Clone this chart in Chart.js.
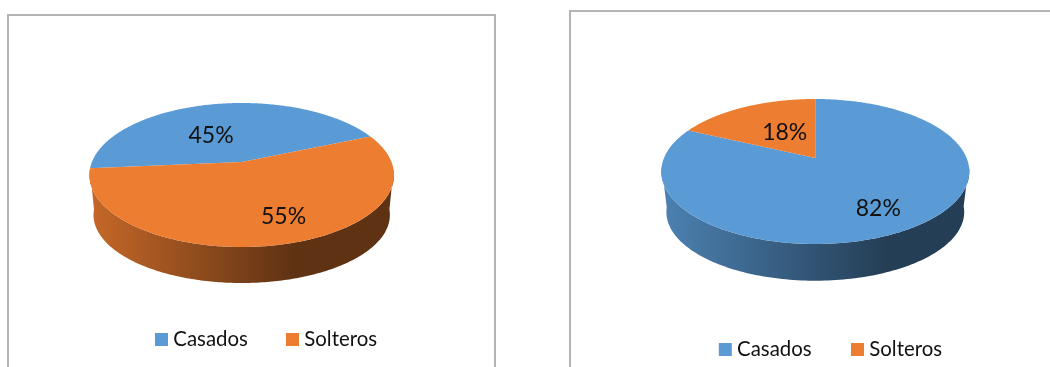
<!DOCTYPE html>
<html><head><meta charset="utf-8">
<style>
html,body{margin:0;padding:0;background:#fff;width:1050px;height:367px;overflow:hidden}
.frame{position:absolute;box-sizing:border-box;border:2px solid #b4b4b4}
canvas{position:absolute;top:0;filter:blur(0.35px)}
</style></head><body>
<div class="frame" style="left:7px;top:14px;width:489px;height:420px"></div>
<div class="frame" style="left:569px;top:10px;width:520px;height:420px"></div>
<canvas id="c1" width="525" height="367" style="left:0"></canvas>
<canvas id="c2" width="525" height="367" style="left:525px"></canvas>
<script src="https://cdn.jsdelivr.net/npm/chart.js@4/dist/chart.umd.js"></script>
<script>
const categories = ['Casados', 'Solteros'];
const valuesLeft = [45, 55];
const valuesRight = [82, 18];
const sliceColors = ['#5B9BD5', '#ED7D31'];
const FONT = 'Lato, "Open Sans", sans-serif';

function rgb(hex, f) {
  const n = parseInt(hex.slice(1), 16);
  return `rgb(${((n>>16)&255)*f|0},${((n>>8)&255)*f|0},${(n&255)*f|0})`;
}

const pie3d = {
  id: 'pie3d',
  beforeDatasetDraw(chart) {
    const o = chart.options.plugins.pie3d;
    const ctx = chart.ctx;
    const arcs = chart.getDatasetMeta(0).data;
    const vals = chart.data.datasets[0].data;
    const colors = chart.data.datasets[0].backgroundColor;
    const total = vals.reduce((a, b) => a + b, 0);
    const cx = arcs[0].x, cy = arcs[0].y, R = arcs[0].outerRadius;
    const c = -o.apexLift / o.ry;
    const k = Math.sqrt(1 - c * c);
    const proj = (a, f, rx, ry, yc) => {
      const u = f * Math.cos(a), v = f * Math.sin(a), w = 1 + c * v;
      return [cx + u * rx * k / w, yc + (ry * v - ry * (-c)) / w];
    };
    const rxB = R * o.baseScale;
    // side wall
    arcs.forEach((arc, i) => {
      const pts = [];
      const n = 240;
      for (let j = 0; j <= n; j++) {
        const a = arc.startAngle + (arc.endAngle - arc.startAngle) * j / n;
        if (Math.sin(a) >= 0.1) pts.push(a);
      }
      if (pts.length < 2) return;
      const g = ctx.createLinearGradient(cx - rxB, 0, cx + rxB, 0);
      g.addColorStop(0, rgb(colors[i], 0.83));
      g.addColorStop(o.shadeStop, rgb(colors[i], 0.4));
      g.addColorStop(1, rgb(colors[i], 0.4));
      ctx.beginPath();
      pts.forEach((a, j) => {
        const p = proj(a, 1, R, o.ry, cy);
        j ? ctx.lineTo(p[0], p[1]) : ctx.moveTo(p[0], p[1]);
      });
      pts.slice().reverse().forEach(a => {
        const p = proj(a, 1, rxB, o.ryBase, cy + o.depth);
        ctx.lineTo(p[0], p[1]);
      });
      ctx.closePath();
      ctx.fillStyle = g;
      ctx.fill();
    });
    // top face
    arcs.forEach((arc, i) => {
      ctx.beginPath();
      const ap = proj(0, 0, R, o.ry, cy);
      ctx.moveTo(ap[0], ap[1]);
      const n = 240;
      for (let j = 0; j <= n; j++) {
        const a = arc.startAngle + (arc.endAngle - arc.startAngle) * j / n;
        const p = proj(a, 1, R, o.ry, cy);
        ctx.lineTo(p[0], p[1]);
      }
      ctx.closePath();
      ctx.fillStyle = colors[i];
      ctx.fill();
    });
    // value labels
    ctx.fillStyle = '#111';
    ctx.font = `${o.labelSize}px ${FONT}`;
    ctx.textAlign = 'center';
    ctx.textBaseline = 'middle';
    arcs.forEach((arc, i) => {
      const p = proj((arc.startAngle + arc.endAngle) / 2, 0.5, R, o.ry, cy);
      ctx.fillText(Math.round(vals[i] / total * 100) + '%', p[0] + o.labelShift[i][0], p[1] + o.labelShift[i][1]);
    });
    // legend
    ctx.textAlign = 'left';
    ctx.textBaseline = 'alphabetic';
    ctx.font = `${o.legendSize}px ${FONT}`;
    chart.data.labels.forEach((t, i) => {
      const x = o.legendX + i * o.legendStep;
      ctx.fillStyle = colors[i];
      ctx.fillRect(x, o.legendY, 13, 13);
      ctx.fillStyle = '#111';
      ctx.fillText(t, x + 18.3, o.legendY + 13);
    });
    return false;
  }
};

function build(id, values, rotation, padding, opts) {
  return new Chart(document.getElementById(id), {
    type: 'pie',
    data: { labels: categories, datasets: [{ data: values, backgroundColor: sliceColors, borderWidth: 0 }] },
    options: {
      responsive: false, animation: false, rotation,
      layout: { padding },
      plugins: { legend: { display: false }, tooltip: { enabled: false }, pie3d: opts }
    },
    plugins: [pie3d]
  });
}

build('c1', valuesLeft, 265, { left: 89.4, right: 131, top: 22.7, bottom: 39.7 }, {
  ry: 72, apexLift: 13, depth: 40, ryBase: 68, baseScale: 0.973, shadeStop: 0.68,
  labelSize: 23, legendSize: 20.4, legendX: 155, legendStep: 131, legendY: 333,
  labelShift: [[-14, 4.5], [22, 18]]
});
build('c2', valuesRight, 0, { left: 136.3, right: 80.7, top: 17.5, bottom: 41.5 }, {
  ry: 72.5, apexLift: 13.5, depth: 40.5, ryBase: 68.7, baseScale: 0.967, shadeStop: 0.74,
  labelSize: 23, legendSize: 20.4, legendX: 193.8, legendStep: 132.2, legendY: 343,
  labelShift: [[19, 18.5], [7, 1.5]]
});
</script>
</body></html>
